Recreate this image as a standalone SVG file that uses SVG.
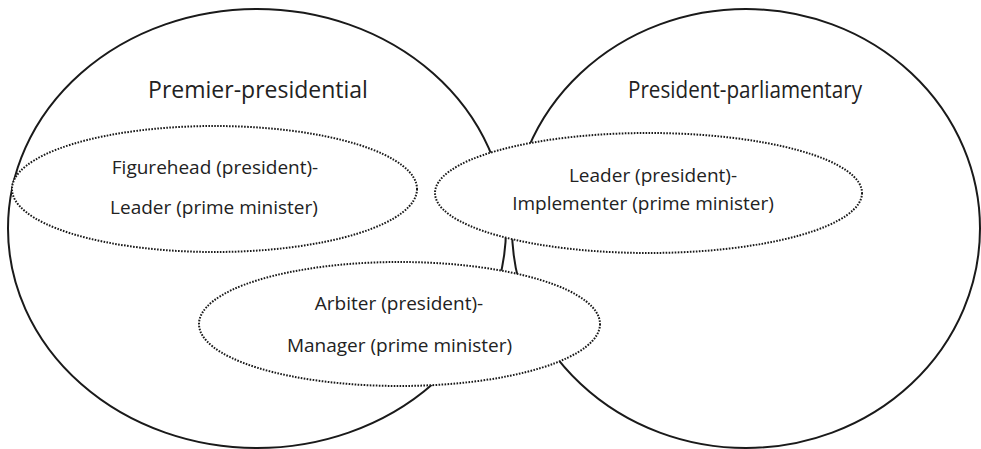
<svg xmlns="http://www.w3.org/2000/svg" width="981" height="449" viewBox="0 0 981 449">
<style>
.big{fill:none;stroke:#1a1a1a;stroke-width:2}
.dot{fill:#fff;stroke:#1a1a1a;stroke-width:2;stroke-dasharray:1.6 1.4}
.t{font-family:"Open Sans","Liberation Sans",sans-serif;fill:#222;text-anchor:middle}
.title{font-size:23px}
.lbl{font-size:19px}
</style>
<rect width="981" height="449" fill="#fff"/>
<g id="premier-presidential">
<ellipse class="big" cx="257" cy="228.5" rx="249" ry="219.5"/>
<text class="t title" x="258" y="98">Premier-presidential</text>
</g>
<g id="president-parliamentary">
<ellipse class="big" cx="746" cy="228.5" rx="234" ry="219.5"/>
<text class="t title" x="745" y="98" textLength="234" lengthAdjust="spacingAndGlyphs">President-parliamentary</text>
</g>
<g id="connectors"></g>
<g id="figurehead-leader">
<ellipse class="dot" cx="214.5" cy="189" rx="202.5" ry="63"/>
<text class="t lbl" x="215" y="174">Figurehead (president)-</text>
<text class="t lbl" x="214" y="214">Leader (prime minister)</text>
</g>
<g id="leader-implementer">
<ellipse class="dot" cx="648.5" cy="193" rx="213.5" ry="60"/>
<text class="t lbl" x="653" y="182">Leader (president)-</text>
<text class="t lbl" x="643" y="210">Implementer (prime minister)</text>
</g>
<g id="arbiter-manager">
<ellipse class="dot" cx="399.5" cy="324" rx="200.5" ry="62"/>
<text class="t lbl" x="399" y="310">Arbiter (president)-</text>
<text class="t lbl" x="399.5" y="352">Manager (prime minister)</text>
</g>
</svg>
